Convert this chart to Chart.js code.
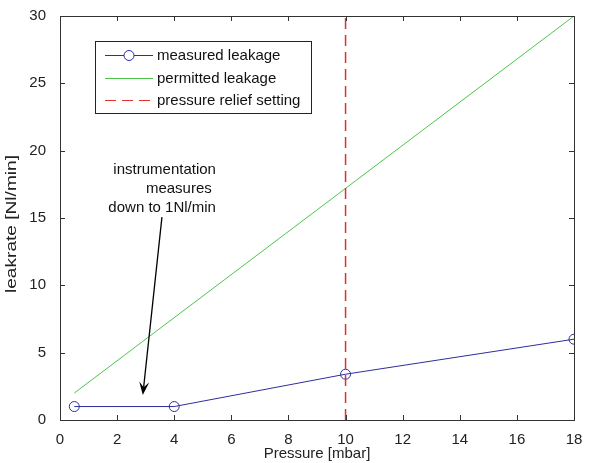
<!DOCTYPE html>
<html>
<head>
<meta charset="utf-8">
<script src="https://cdn.jsdelivr.net/npm/chart.js@4/dist/chart.umd.min.js"></script>
<style>
  html, body { margin: 0; padding: 0; background: #fff; }
  #wrap { width: 593px; height: 463px; }
</style>
</head>
<body>
<div id="wrap"><canvas id="leakChart" width="593" height="463"></canvas></div>
<script>
// data
const pressure = [0.5, 4, 10, 18];
const measuredLeak = [1, 1, 3.4, 6];
const permittedP = [0.5, 18];
const permittedLeak = [2, 30];
const reliefP = [10, 10];
const reliefLeak = [0, 30];
const seriesLabels = ['measured leakage', 'permitted leakage', 'pressure relief setting'];

// axis ranges / ticks
const xRange = [0, 18], xStep = 2;
const yRange = [0, 30], yStep = 5;
const xTitle = 'Pressure [mbar]';
const yTitle = 'leakrate [Nl/min]';

// annotation (data coords)
const noteLines = ['instrumentation', 'measures ', 'down to 1Nl/min'];
const noteAt = { x: 5.46, y: 18.6 };
const arrowFrom = { x: 3.57, y: 15.07 };
const arrowTo = { x: 2.9, y: 1.86 };

const FONT = '"Liberation Sans", Arial, sans-serif';
const BLUE = '#2e2e9c', GREEN = '#4cc44c', RED = '#e03030';

const toXY = (xs, ys) => xs.map((x, i) => ({ x: x, y: ys[i] }));

// frame + inward ticks on all four sides, matlab style
const boxTicks = {
  id: 'boxTicks',
  afterDatasetsDraw(chart) {
    const { ctx, chartArea: a, scales } = chart;
    const len = 5;
    ctx.save();
    ctx.strokeStyle = '#333';
    ctx.lineWidth = 1;
    ctx.beginPath();
    scales.x.ticks.forEach(t => {
      const px = Math.round(scales.x.getPixelForValue(t.value)) + 0.5;
      ctx.moveTo(px, a.bottom); ctx.lineTo(px, a.bottom - len);
      ctx.moveTo(px, a.top); ctx.lineTo(px, a.top + len);
    });
    scales.y.ticks.forEach(t => {
      const py = Math.round(scales.y.getPixelForValue(t.value)) + 0.5;
      ctx.moveTo(a.left, py); ctx.lineTo(a.left + len, py);
      ctx.moveTo(a.right, py); ctx.lineTo(a.right - len, py);
    });
    ctx.stroke();
    ctx.strokeRect(Math.round(a.left) + 0.5, Math.round(a.top) + 0.5,
      Math.round(a.right - a.left), Math.round(a.bottom - a.top));
    ctx.restore();
  }
};

// legend box inside the axes
const boxLegend = {
  id: 'boxLegend',
  afterDraw(chart) {
    const { ctx } = chart;
    const x0 = 95.5, y0 = 41.5, w = 216, h = 72;
    const rows = [55, 78, 100];
    ctx.save();
    ctx.fillStyle = '#fff';
    ctx.fillRect(x0, y0, w, h);
    ctx.strokeStyle = '#222';
    ctx.lineWidth = 1;
    ctx.strokeRect(x0, y0, w, h);
    ctx.font = '15px ' + FONT;
    ctx.textBaseline = 'middle';
    chart.data.datasets.forEach((ds, i) => {
      const y = rows[i] + 0.5;
      ctx.strokeStyle = ds.borderColor;
      ctx.lineWidth = 1;
      ctx.setLineDash(ds.borderDash || []);
      ctx.beginPath();
      ctx.moveTo(105, y); ctx.lineTo(153, y);
      ctx.stroke();
      ctx.setLineDash([]);
      if (ds.pointRadius > 0) {
        ctx.beginPath();
        ctx.arc(129, y, ds.pointRadius, 0, Math.PI * 2);
        ctx.fillStyle = '#fff';
        ctx.fill();
        ctx.stroke();
      }
      ctx.fillStyle = '#111';
      ctx.fillText(ds.label, 157, y);
    });
    ctx.restore();
  }
};

// text + arrow annotation, plus the (stretched) y axis title
const note = {
  id: 'note',
  afterDraw(chart) {
    const { ctx, chartArea: a, scales: { x, y } } = chart;
    ctx.save();
    ctx.font = '15px ' + FONT;
    ctx.fillStyle = '#111';
    ctx.textAlign = 'right';
    ctx.textBaseline = 'middle';
    const tx = x.getPixelForValue(noteAt.x);
    const ty = y.getPixelForValue(noteAt.y);
    noteLines.forEach((s, i) => ctx.fillText(s, tx, ty + i * 19));

    const x1 = x.getPixelForValue(arrowFrom.x), y1 = y.getPixelForValue(arrowFrom.y);
    const x2 = x.getPixelForValue(arrowTo.x), y2 = y.getPixelForValue(arrowTo.y);
    const ang = Math.atan2(y2 - y1, x2 - x1);
    const hl = 13, hw = 5;
    ctx.strokeStyle = '#000';
    ctx.lineWidth = 1.3;
    ctx.beginPath();
    ctx.moveTo(x1, y1);
    ctx.lineTo(x2 - Math.cos(ang) * hl * 0.6, y2 - Math.sin(ang) * hl * 0.6);
    ctx.stroke();
    ctx.save();
    ctx.translate(x2, y2);
    ctx.rotate(ang);
    ctx.fillStyle = '#000';
    ctx.beginPath();
    ctx.moveTo(0, 0);
    ctx.lineTo(-hl, -hw);
    ctx.lineTo(-hl * 0.6, 0);
    ctx.lineTo(-hl, hw);
    ctx.closePath();
    ctx.fill();
    ctx.restore();

    // y title
    ctx.translate(12, (a.top + a.bottom) / 2 + 6);
    ctx.rotate(-Math.PI / 2);
    ctx.font = '14px ' + FONT;
    ctx.textAlign = 'center';
    const wTxt = ctx.measureText(yTitle).width;
    ctx.scale(138 / wTxt, 1);
    ctx.fillStyle = '#222';
    ctx.fillText(yTitle, 0, 0);
    ctx.restore();
  }
};

new Chart(document.getElementById('leakChart'), {
  type: 'scatter',
  data: {
    datasets: [
      {
        label: seriesLabels[0],
        data: toXY(pressure, measuredLeak),
        showLine: true,
        borderColor: BLUE,
        backgroundColor: 'rgba(0,0,0,0)',
        borderWidth: 1,
        pointRadius: 5,
        pointBorderWidth: 1,
        order: 2
      },
      {
        label: seriesLabels[1],
        data: toXY(permittedP, permittedLeak),
        showLine: true,
        borderColor: GREEN,
        backgroundColor: GREEN,
        borderWidth: 1,
        pointRadius: 0,
        order: 3
      },
      {
        label: seriesLabels[2],
        data: toXY(reliefP, reliefLeak),
        showLine: true,
        borderColor: RED,
        backgroundColor: RED,
        borderWidth: 1.5,
        borderDash: [11, 6],
        pointRadius: 0,
        order: 1
      }
    ]
  },
  options: {
    responsive: false,
    animation: false,
    devicePixelRatio: 1,
    layout: { padding: { left: 0, right: 19, top: 16, bottom: 0 } },
    plugins: {
      legend: { display: false },
      tooltip: { enabled: false }
    },
    scales: {
      x: {
        type: 'linear',
        min: xRange[0], max: xRange[1],
        ticks: { stepSize: xStep, color: '#222', font: { family: FONT, size: 15 }, padding: 3, maxRotation: 0 },
        grid: { display: false },
        border: { display: false },
        title: { display: true, text: xTitle, color: '#222', font: { family: FONT, size: 15 }, padding: { top: 0, bottom: 0 } },
        afterFit(s) { s.height = 43; }
      },
      y: {
        type: 'linear',
        min: yRange[0], max: yRange[1],
        ticks: { stepSize: yStep, color: '#222', font: { family: FONT, size: 15 }, padding: 6 },
        grid: { display: false },
        border: { display: false },
        title: { display: false },
        afterFit(s) { s.width = 60; }
      }
    }
  },
  plugins: [boxTicks, boxLegend, note]
});
</script>
</body>
</html>
